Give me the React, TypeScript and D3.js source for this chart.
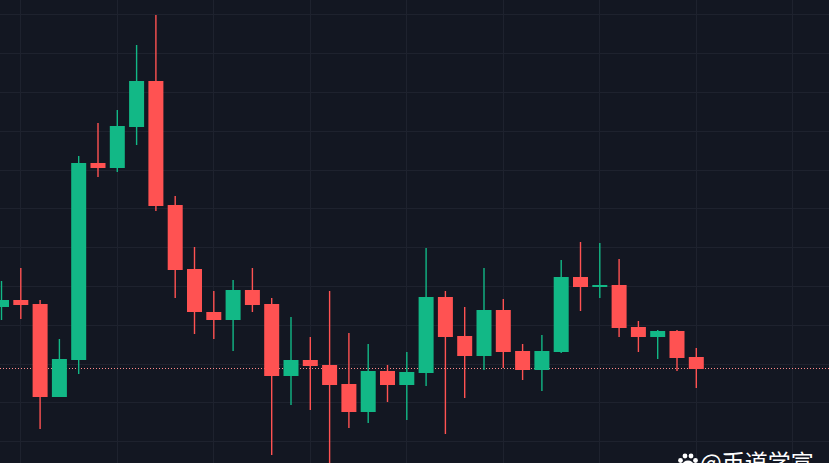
import { useEffect, useRef } from "react";
import { scaleLinear, select } from "d3";

// prices are read off the picture (the chart has no price axis, so units are arbitrary)
const opens = [156, 163, 159, 66, 103, 300, 295, 336, 382, 258, 194, 151, 143, 173, 159, 87, 103, 98, 79, 51, 92, 78, 90, 166, 127, 107, 153, 112, 93, 111, 186, 176, 178, 136, 126, 132, 106];
const closes = [163, 158, 66, 104, 300, 295, 337, 382, 257, 193, 151, 143, 173, 158, 87, 103, 97, 78, 51, 92, 78, 91, 166, 126, 107, 153, 111, 93, 112, 186, 176, 178, 135, 126, 132, 105, 94];
const highs = [182, 195, 163, 124, 307, 340, 353, 418, 448, 267, 216, 172, 183, 195, 165, 146, 126, 172, 130, 119, 98, 111, 215, 172, 156, 195, 164, 119, 128, 203, 221, 220, 204, 142, 133, 133, 115];
const lows = [143, 144, 34, 66, 89, 286, 291, 318, 252, 165, 129, 124, 112, 151, 8, 58, 53, -5, 35, 40, 61, 43, 77, 29, 65, 93, 95, 83, 72, 110, 152, 165, 126, 111, 104, 92, 75];
const lastPrice = 95;

const gridPrices = [449, 410, 371, 332, 293, 255, 216, 177, 138, 99, 61, 22];
const gridCandles = [1, 6, 11, 16, 21, 26, 31, 36, 41];
const watermark = "@币道学宣";

const WIDTH = 829;
const HEIGHT = 463;
const UP = "#12b886";
const DOWN = "#ff5252";
const GRID = "#1e222e";

export default function App() {
  const ref = useRef<SVGSVGElement>(null);

  useEffect(() => {
    const svg = select(ref.current);
    svg.selectAll("*").remove();

    const x = scaleLinear().domain([0, 1]).range([1.5, 20.8]);
    const y = scaleLinear().domain([0, HEIGHT]).range([HEIGHT, 0]);
    const bodyW = 15;

    svg.append("rect").attr("width", WIDTH).attr("height", HEIGHT).attr("fill", "#131722");

    svg.selectAll(".hgrid")
      .data(gridPrices)
      .enter()
      .append("line")
      .attr("x1", 0)
      .attr("x2", WIDTH)
      .attr("y1", d => y(d))
      .attr("y2", d => y(d))
      .attr("stroke", GRID)
      .attr("shape-rendering", "crispEdges");

    svg.selectAll(".vgrid")
      .data(gridCandles)
      .enter()
      .append("line")
      .attr("x1", d => x(d))
      .attr("x2", d => x(d))
      .attr("y1", 0)
      .attr("y2", HEIGHT)
      .attr("stroke", GRID)
      .attr("shape-rendering", "crispEdges");

    svg.append("line")
      .attr("x1", 0)
      .attr("x2", WIDTH)
      .attr("y1", y(lastPrice))
      .attr("y2", y(lastPrice))
      .attr("stroke", "#ff8a8a")
      .attr("stroke-dasharray", "1 2")
      .attr("shape-rendering", "crispEdges");

    const candles = opens.map((o, i) => ({ i, o, c: closes[i], h: highs[i], l: lows[i] }));
    const color = (d: { o: number; c: number }) => (d.c >= d.o ? UP : DOWN);

    svg.selectAll(".wick")
      .data(candles)
      .enter()
      .append("line")
      .attr("x1", d => x(d.i))
      .attr("x2", d => x(d.i))
      .attr("y1", d => y(d.h))
      .attr("y2", d => y(d.l))
      .attr("stroke", color)
      .attr("stroke-width", 1.4);

    svg.selectAll(".body")
      .data(candles)
      .enter()
      .append("rect")
      .attr("x", d => x(d.i) - bodyW / 2)
      .attr("y", d => y(Math.max(d.o, d.c)))
      .attr("width", bodyW)
      .attr("height", d => Math.abs(y(d.o) - y(d.c)))
      .attr("fill", color);

    // paw icon of the watermark
    const paw = svg.append("g").attr("fill", "#fff").attr("transform", "translate(688,462)");
    paw.append("ellipse").attr("cx", 0).attr("cy", 3).attr("rx", 5.5).attr("ry", 4.5);
    paw.selectAll("circle")
      .data([[-7.5, -1.5], [-3, -6], [3, -6], [7.5, -1.5]])
      .enter()
      .append("circle")
      .attr("cx", d => d[0])
      .attr("cy", d => d[1])
      .attr("r", 2.4);

    svg.append("text")
      .attr("x", 700)
      .attr("y", 471)
      .attr("fill", "#fff")
      .attr("font-family", "'Noto Sans CJK SC'")
      .attr("font-size", 23)
      .text(watermark);
  }, []);

  return (
    <svg
      ref={ref}
      width={WIDTH}
      height={HEIGHT}
      style={{ position: "absolute", left: 0, top: 0, display: "block" }}
    />
  );
}
